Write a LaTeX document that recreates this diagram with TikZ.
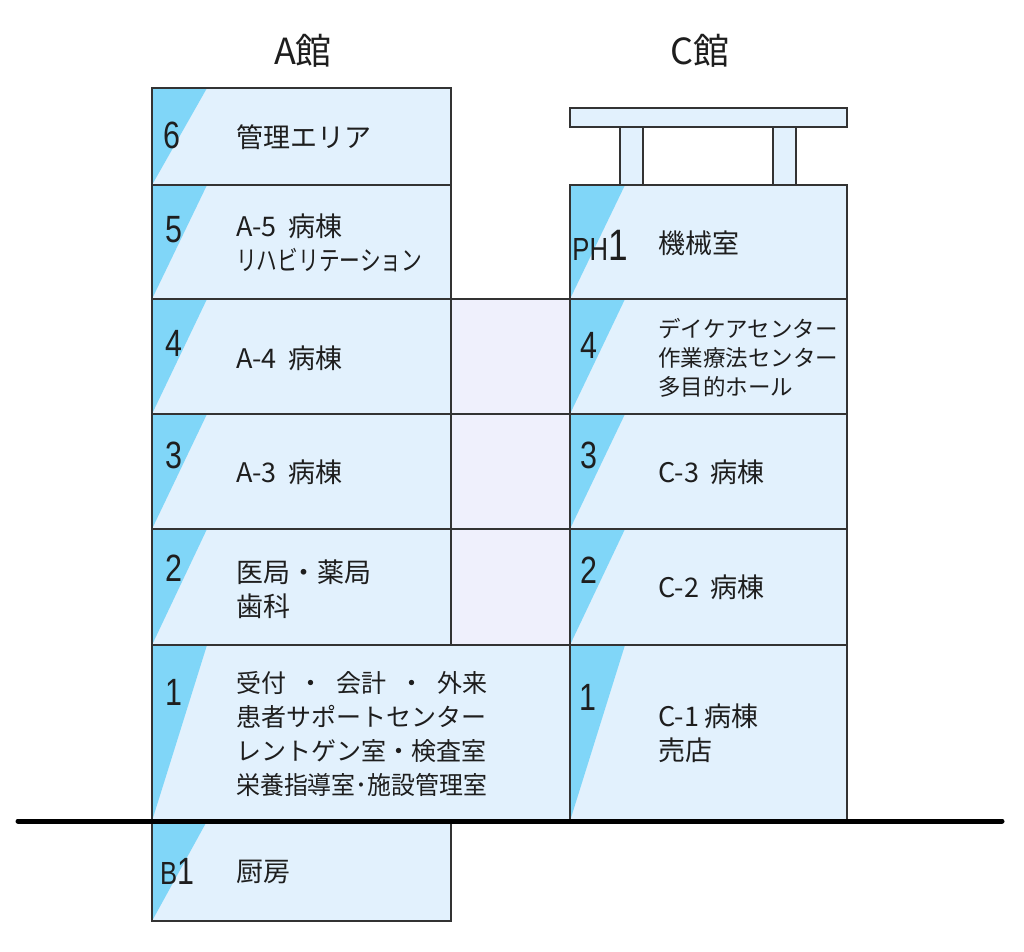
\documentclass[tikz,border=0pt]{standalone}
\usepackage{graphicx}
\usepackage{fontspec}
\newfontfamily\jp{Noto Sans CJK JP}
\newfontfamily\numf{Liberation Sans}
\definecolor{lightfill}{HTML}{E2F1FD}
\definecolor{wedgefill}{HTML}{80D6F8}
\definecolor{lavender}{HTML}{EFF0FC}
\definecolor{edge}{HTML}{333333}
\definecolor{ink}{HTML}{1E1E1E}
\newcommand\nm[1]{\scalebox{0.8}[1]{#1}}
\newcommand\flr[5]{%
  \coordinate (#1nw) at (#2,#3);
  \coordinate (#1se) at (#4,#5);
  \fill[lightfill] (#1nw) rectangle (#1se);
  \fill[wedgefill] (#1nw) -- ++(55,0) -- (#1nw |- #1se) -- cycle;
}
\begin{document}
\begin{tikzpicture}[x=1pt,y=-1pt,
  border/.style={draw=edge,line width=1.3pt},
  thickborder/.style={draw=edge,line width=2.2pt},
  lbl/.style={font=\jp\fontsize{27}{34}\selectfont,anchor=west,inner sep=0pt,align=left,text=ink},
  lblsmall/.style={lbl,font=\jp\fontsize{22.5}{29}\selectfont},
  lblone/.style={lbl,font=\jp\fontsize{25}{34}\selectfont},
  num/.style={font=\numf\fontsize{38}{38}\selectfont,inner sep=0pt,text=ink},
  title/.style={font=\jp\fontsize{36}{36}\selectfont,inner sep=0pt,text=ink}]
\useasboundingbox (0,0) rectangle (1024,951);

% titles
\node[title] (tA) at (303,51) {A館};
\node[title] (tC) at (700,51) {C館};

% connector cells (middle)
\coordinate (m4nw) at (451,299); \coordinate (m4se) at (570,414);
\coordinate (m3nw) at (451,414); \coordinate (m3se) at (570,529);
\coordinate (m2nw) at (451,529); \coordinate (m2se) at (570,645);
\fill[lavender] (m4nw) rectangle (m2se);

% roof and pillars of C
\coordinate (roofnw) at (570,108); \coordinate (roofse) at (847,127);
\coordinate (p1nw) at (620,127); \coordinate (p1se) at (643,185);
\coordinate (p2nw) at (773,127); \coordinate (p2se) at (796,185);
\fill[lightfill] (roofnw) rectangle (roofse);
\fill[lightfill] (p1nw) rectangle (p1se);
\fill[lightfill] (p2nw) rectangle (p2se);

% A floors
\flr{a6}{152}{88}{451}{185}
\flr{a5}{152}{185}{451}{299}
\flr{a4}{152}{299}{451}{414}
\flr{a3}{152}{414}{451}{529}
\flr{a2}{152}{529}{451}{645}
\flr{a1}{152}{645}{570}{821}
\flr{ab}{152}{821}{451}{921}
% C floors
\flr{cp}{570}{185}{847}{299}
\flr{c4}{570}{299}{847}{414}
\flr{c3}{570}{414}{847}{529}
\flr{c2}{570}{529}{847}{645}
\flr{c1}{570}{645}{847}{821}

% borders
\foreach \f in {m4,m3,m2,roof,p1,p2,a6,a5,a4,a3,a2,ab,cp,c4,c3,c2}
  \draw[border] (\f nw) rectangle (\f se);
\draw[thickborder] (a1nw) rectangle (a1se);
\draw[thickborder] (c1nw) rectangle (c1se);

% ground line
\coordinate (gl) at (18,821);
\coordinate (gr) at (1002,821);
\draw[line width=5pt,line cap=round,black] (gl) -- (gr);

% floor numbers
\node[num] (n6) at (172,135) {\nm{6}};
\node[num] (n5) at (174,230) {\nm{5}};
\node[num] (n4) at (174,343) {\nm{4}};
\node[num] (n3) at (174,455) {\nm{3}};
\node[num] (n2) at (174,568) {\nm{2}};
\node[num] (n1) at (174,692) {\nm{1}};
\node[num,anchor=base] (nb) at (177,884) {\nm{{\fontsize{32}{32}\selectfont B}1}};
\node[num,anchor=base] (np) at (600,260) {\nm{{\fontsize{32}{32}\selectfont PH}{\fontsize{44}{44}\selectfont 1}}};
\node[num] (m4) at (589,345) {\nm{4}};
\node[num] (m3) at (589,455) {\nm{3}};
\node[num] (m2) at (589,570) {\nm{2}};
\node[num] (m1) at (588,697) {\nm{1}};

% labels A
\node[lbl] (l6) at (236,137) {管理エリア};
\node[lbl] (l5) at (236,243) {A-5\hspace{12pt}病棟\\\resizebox{186pt}{\height}{リハビリテーション}};
\node[lbl] (l4) at (236,358) {A-4\hspace{12pt}病棟};
\node[lbl] (l3) at (236,472) {A-3\hspace{12pt}病棟};
\node[lbl] (l2) at (236,589) {医局・薬局\\歯科};
\node[lblone] (l1) at (236,734) {\makebox[251pt][s]{受付\hfill{}・\hfill{}会計\hfill{}・\hfill{}外来}\\患者サポートセンター\\レントゲン室・検査室\\\resizebox{251pt}{\height}{栄養指導室･施設管理室}};
\node[lbl] (lb) at (236,872) {厨房};

% labels C
\node[lbl] (lp) at (658,243) {機械室};
\node[lblsmall] (k4) at (658,358) {デイケアセンター\\作業療法センター\\多目的ホール};
\node[lbl] (k3) at (658,472) {C-3\hspace{12pt}病棟};
\node[lbl] (k2) at (658,587) {C-2\hspace{12pt}病棟};
\node[lbl] (k1) at (658,733) {C-1\hspace{5pt}病棟\\売店};
\end{tikzpicture}
\end{document}
